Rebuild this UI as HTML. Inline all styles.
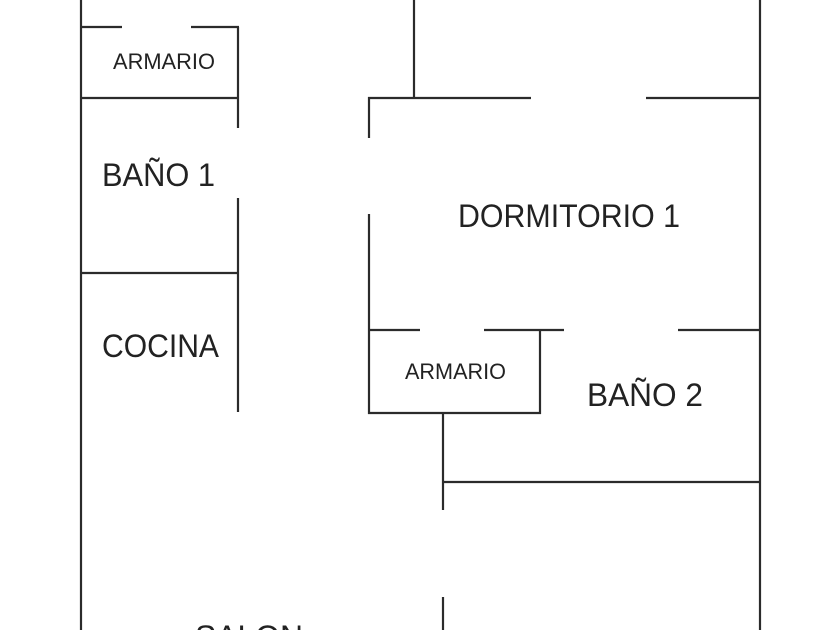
<!DOCTYPE html>
<html><head><style>html,body{margin:0;padding:0;background:#fff;}svg{display:block}</style></head>
<body>
<svg width="840" height="630" viewBox="0 0 840 630" xmlns="http://www.w3.org/2000/svg">
<g stroke="#2b2b2b" stroke-width="2.2" fill="none" stroke-linecap="butt">
<line x1="81" y1="0" x2="81" y2="630"/>
<line x1="81" y1="27" x2="122" y2="27"/>
<line x1="191" y1="27" x2="239" y2="27"/>
<line x1="238" y1="27" x2="238" y2="128"/>
<line x1="238" y1="198" x2="238" y2="412"/>
<line x1="81" y1="98" x2="238" y2="98"/>
<line x1="81" y1="273" x2="238" y2="273"/>
<line x1="414" y1="0" x2="414" y2="98"/>
<line x1="368" y1="98" x2="531" y2="98"/>
<line x1="646" y1="98" x2="760" y2="98"/>
<line x1="369" y1="97" x2="369" y2="138"/>
<line x1="369" y1="214" x2="369" y2="414"/>
<line x1="760" y1="0" x2="760" y2="630"/>
<line x1="369" y1="330" x2="420" y2="330"/>
<line x1="484" y1="330" x2="564" y2="330"/>
<line x1="678" y1="330" x2="760" y2="330"/>
<line x1="540" y1="330" x2="540" y2="414"/>
<line x1="368" y1="413" x2="541" y2="413"/>
<line x1="443" y1="413" x2="443" y2="510"/>
<line x1="443" y1="597" x2="443" y2="630"/>
<line x1="443" y1="482" x2="760" y2="482"/>
</g>
<g fill="#222" font-family="Liberation Sans, sans-serif">
<text x="113" y="69" font-size="22" textLength="102" lengthAdjust="spacingAndGlyphs">ARMARIO</text>
<text x="102" y="186" font-size="32" textLength="113" lengthAdjust="spacingAndGlyphs">BAÑO 1</text>
<text x="102" y="357" font-size="32" textLength="117" lengthAdjust="spacingAndGlyphs">COCINA</text>
<text x="458" y="227" font-size="32" textLength="222" lengthAdjust="spacingAndGlyphs">DORMITORIO 1</text>
<text x="405" y="379" font-size="22" textLength="101" lengthAdjust="spacingAndGlyphs">ARMARIO</text>
<text x="587" y="406" font-size="32" textLength="116" lengthAdjust="spacingAndGlyphs">BAÑO 2</text>
<text x="195" y="648" font-size="32" textLength="108" lengthAdjust="spacingAndGlyphs">SALON</text>
</g>
</svg>
</body></html>
